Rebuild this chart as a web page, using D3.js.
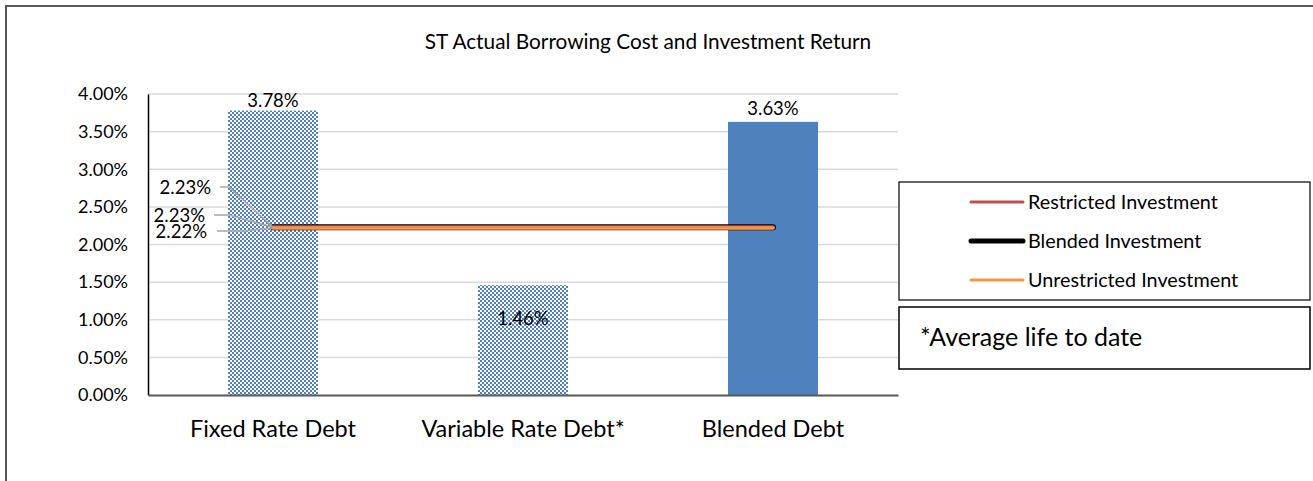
<!DOCTYPE html>
<html>
<head>
<meta charset="utf-8">
<script src="https://cdn.jsdelivr.net/npm/d3@7"></script>
<style>
  body { margin: 0; background: #fff; }
  text { font-family: Lato, "Open Sans", sans-serif; fill: #000; }
</style>
</head>
<body>
<div class="CHART"></div>
<script>
// data
var categories = ["Fixed Rate Debt", "Variable Rate Debt*", "Blended Debt"];
var debtValues = [3.78, 1.46, 3.63];
var debtPattern = ["check", "check", "solid"];
var seriesNames = ["Restricted Investment", "Blended Investment", "Unrestricted Investment"];
var restricted = [2.23, 2.23, 2.23];
var blended = [2.23, 2.23, 2.23];
var unrestricted = [2.22, 2.22, 2.22];
var yTicks = [0, 0.5, 1, 1.5, 2, 2.5, 3, 3.5, 4];

var W = 1313, H = 481;
var pLeft = 148, pRight = 898, pTop = 94, pBottom = 395;

var svg = d3.select(".CHART").append("svg")
    .attr("width", W)
    .attr("height", H);

var defs = svg.append("defs");
var pat = defs.append("pattern")
    .attr("id", "chk")
    .attr("patternUnits", "userSpaceOnUse")
    .attr("width", 4).attr("height", 4);
pat.append("rect").attr("width", 4).attr("height", 4).attr("fill", "#fff");
pat.append("rect").attr("width", 2).attr("height", 2).attr("fill", "#4F81BD");
pat.append("rect").attr("x", 2).attr("y", 2).attr("width", 2).attr("height", 2).attr("fill", "#4F81BD");

// outer frame (only top and left show)
svg.append("line").attr("x1", 5).attr("x2", W).attr("y1", 6).attr("y2", 6)
    .attr("stroke", "#222").attr("stroke-width", 1.5);
svg.append("line").attr("x1", 6).attr("x2", 6).attr("y1", 6).attr("y2", H)
    .attr("stroke", "#555").attr("stroke-width", 2);

var x = d3.scaleBand().domain(categories).range([pLeft, pRight]).paddingInner(0.64).paddingOuter(0.32);
var y = d3.scaleLinear().domain([0, 4]).range([pBottom, pTop]);

// gridlines
svg.selectAll(".grid").data(yTicks.slice(1)).enter().append("line")
    .attr("x1", pLeft).attr("x2", pRight)
    .attr("y1", function(d){ return y(d); }).attr("y2", function(d){ return y(d); })
    .attr("stroke", "#d9d9d9").attr("stroke-width", 1.5);

// y axis
var yAxis = svg.append("g").attr("transform", "translate(" + pLeft + ",0)")
    .call(d3.axisLeft(y).tickValues(yTicks).tickSize(0).tickPadding(20)
        .tickFormat(function(d){ return d.toFixed(2) + "%"; }));
yAxis.select(".domain").attr("stroke", "#000").attr("stroke-width", 1.5);
yAxis.selectAll("text").attr("font-size", "18px").attr("font-family", "Lato");

// bars
svg.selectAll(".bar").data(categories).enter().append("rect")
    .attr("x", function(d){ return x(d); })
    .attr("width", x.bandwidth())
    .attr("y", function(d, i){ return y(debtValues[i]); })
    .attr("height", function(d, i){ return pBottom - y(debtValues[i]); })
    .attr("fill", function(d, i){ return debtPattern[i] == "check" ? "url(#chk)" : "#4F81BD"; });

// x axis
var xAxis = svg.append("g").attr("transform", "translate(0," + pBottom + ")")
    .call(d3.axisBottom(x).tickSize(0));
xAxis.select(".domain").attr("stroke", "#595959").attr("stroke-width", 2);
xAxis.selectAll("text").attr("font-size", "23.5px").attr("font-family", "Lato")
    .attr("dy", null).attr("y", 42);

// bar labels
var barLabelY = [y(debtValues[0]) - 4, y(debtValues[1]) + 40, y(debtValues[2]) - 7];
svg.selectAll(".blab").data(categories).enter().append("text")
    .attr("x", function(d){ return x(d) + x.bandwidth() / 2; })
    .attr("y", function(d, i){ return barLabelY[i]; })
    .attr("text-anchor", "middle")
    .attr("font-size", "18.5px")
    .text(function(d, i){ return debtValues[i].toFixed(2) + "%"; });

// investment lines
var cx = function(i){ return x(categories[i]) + x.bandwidth() / 2; };
var lineGen = d3.line().x(function(d, i){ return cx(i); }).y(function(d){ return y(d); });
var series = [restricted, blended, unrestricted];
var sColor = ["#C0504D", "#000", "#F79646"];
var sWidth = [4, 6, 3.5];
// blended drawn thick behind, then restricted, then unrestricted on top
[1, 0, 2].forEach(function(k){
    svg.append("path").datum(series[k])
        .attr("d", lineGen)
        .attr("fill", "none")
        .attr("stroke", sColor[k])
        .attr("stroke-width", sWidth[k])
        .attr("stroke-linecap", "round");
});

// data labels with leader lines for first point
var labY = [188, 216, 232];
var labX = [211, 205, 207];
var leadStart = [220, 214, 217];
series.forEach(function(s, k){
    var px = cx(0), py = y(s[0]);
    svg.append("polyline")
        .attr("points", leadStart[k] + "," + (labY[k] - 1) + " " + (k == 2 ? 245 : 229) + "," + (labY[k] - 1) + " " + px + "," + py)
        .attr("fill", "none").attr("stroke", "#a6a6a6").attr("stroke-width", 1.5);
    svg.append("text")
        .attr("x", labX[k]).attr("y", labY[k] + 6)
        .attr("text-anchor", "end")
        .attr("font-size", "18.5px")
        .text(s[0].toFixed(2) + "%");
});

// title
svg.append("text")
    .attr("x", 648).attr("y", 49)
    .attr("text-anchor", "middle")
    .attr("font-size", "20.8px")
    .text("ST Actual Borrowing Cost and Investment Return");

// legend
var leg = svg.append("g");
leg.append("rect").attr("x", 899).attr("y", 182).attr("width", 411).attr("height", 118)
    .attr("fill", "#fff").attr("stroke", "#000").attr("stroke-width", 1.2);
var legY = [202, 241, 280];
var legW = [3, 5, 3];
seriesNames.forEach(function(n, k){
    leg.append("line").attr("x1", 971).attr("x2", 1023).attr("y1", legY[k]).attr("y2", legY[k])
        .attr("stroke", sColor[k]).attr("stroke-width", legW[k]).attr("stroke-linecap", "round");
    leg.append("text").attr("x", 1028).attr("y", legY[k] + 7)
        .attr("font-size", "19.8px").text(n);
});

// note box
svg.append("rect").attr("x", 899).attr("y", 307).attr("width", 411).attr("height", 62)
    .attr("fill", "#fff").attr("stroke", "#000").attr("stroke-width", 1.5);
svg.append("text").attr("x", 920).attr("y", 346)
    .attr("font-size", "25px").text("*Average life to date");
</script>
</body>
</html>
